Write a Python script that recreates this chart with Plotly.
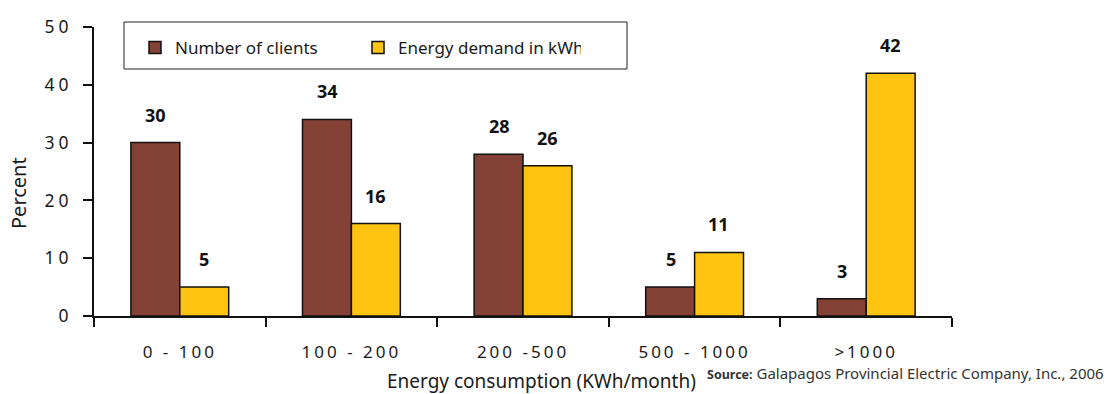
import plotly.graph_objects as go

categories = ["0 - 100", "100 - 200", "200 -500", "500 - 1000", ">1000"]
clients = [30, 34, 28, 5, 3]
energy = [5, 16, 26, 11, 42]
y_ticks = [0, 10, 20, 30, 40, 50]

MAROON = "#844236"
YELLOW = "#FFC312"
TXT = "#1a1a1a"
FONT = "Noto Sans"

W, H = 1114, 394
L, R, T, B = 94, 162, 27, 78
PW, PH = W - L - R, H - T - B

def px(x):
    return (x - L) / PW

def py(y):
    return (H - B - y) / PH

fig = go.Figure()
fig.add_trace(go.Bar(x=categories, y=clients, name="Number of clients",
                     marker=dict(color=MAROON, line=dict(color="#111", width=1.5))))
fig.add_trace(go.Bar(x=categories, y=energy, name="Energy demand in kWh",
                     marker=dict(color=YELLOW, line=dict(color="#111", width=1.5))))

for series, shift in ((clients, -24), (energy, 24)):
    for c, v in zip(categories, series):
        fig.add_annotation(x=c, y=v, text=f"<b>{v}</b>", showarrow=False,
                           xshift=shift, yshift=28, yanchor="middle",
                           font=dict(family=FONT, size=18, color="#111"))

# axis titles
fig.add_annotation(xref="paper", yref="paper", x=px(541), y=py(381), xanchor="center", yanchor="middle",
                   text="Energy consumption (KWh/month)", showarrow=False,
                   font=dict(family=FONT, size=19, color=TXT))
fig.add_annotation(xref="paper", yref="paper", x=px(19), y=py(193), xanchor="center", yanchor="middle",
                   text="Percent", textangle=-90, showarrow=False,
                   font=dict(family=FONT, size=20, color=TXT))

fig.add_annotation(xref="paper", yref="paper", x=px(705), y=py(373), xanchor="left", yanchor="middle",
                   text="<b><span style='font-size:12.5px'>Source:</span></b> Galapagos Provincial Electric Company, Inc., 2006",
                   showarrow=False, font=dict(family=FONT, size=15, color="#333"))

# legend frame
fig.add_shape(type="rect", xref="paper", yref="paper", x0=px(124), x1=px(627), y0=py(69), y1=py(22),
              line=dict(color="#222", width=1), fillcolor="rgba(0,0,0,0)")

fig.update_layout(
    width=W, height=H,
    margin=dict(l=L, r=R, t=T, b=B),
    paper_bgcolor="white", plot_bgcolor="white",
    barmode="group", bargap=0.43, bargroupgap=0,
    font=dict(family=FONT, size=16, color=TXT),
    showlegend=True,
    legend=dict(orientation="h", x=px(135), y=py(30), xanchor="left", yanchor="top",
                entrywidth=178, entrywidthmode="pixels", bgcolor="rgba(0,0,0,0)",
                font=dict(family=FONT, size=17, color=TXT), traceorder="normal"),
    xaxis=dict(type="category", showline=True, linecolor="#111", linewidth=2, automargin=False,
               ticks="outside", tickson="boundaries", ticklen=9, tickwidth=2, tickcolor="#111",
               ticklabelstandoff=20, tickfont=dict(size=17)),
    yaxis=dict(range=[0, 50], tickvals=y_ticks, showline=True, linecolor="#111", linewidth=2,
               automargin=False,
               ticks="outside", ticklen=9, tickwidth=2, tickcolor="#111", showgrid=False,
               zeroline=False, ticklabelstandoff=7, tickfont=dict(size=17.5)),
)

post = """
document.body.style.margin='0';
document.querySelectorAll('.xtick text').forEach(function(t){t.style.letterSpacing='3px';});
document.querySelectorAll('.ytick text').forEach(function(t){t.style.letterSpacing='4px';});
"""
fig.write_html("out.html", post_script=post, config={"displayModeBar": False})
